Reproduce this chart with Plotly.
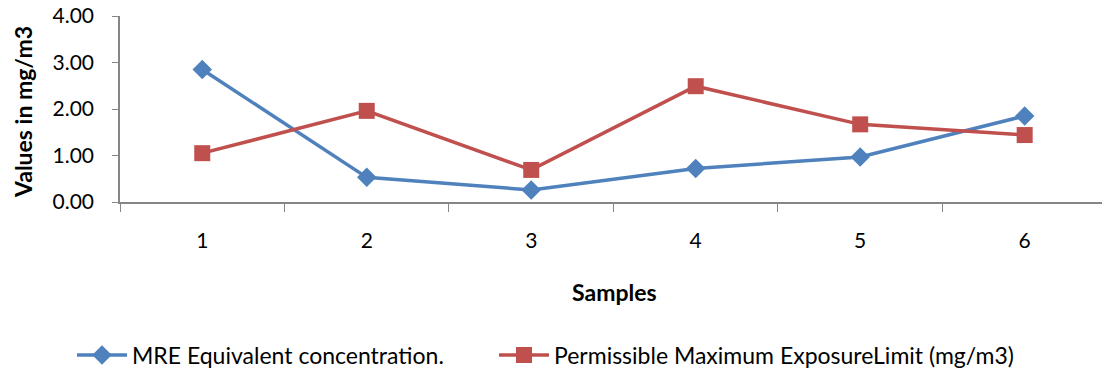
import plotly.graph_objects as go

samples = ["1", "2", "3", "4", "5", "6"]
mre_equivalent = [2.85, 0.53, 0.26, 0.72, 0.97, 1.85]
permissible_limit = [1.05, 1.96, 0.69, 2.49, 1.67, 1.44]

FONT = "Lato"
W, H = 1102, 372
L, R, T, B = 120, 0, 16, 372 - 202
PW, PH = W - L - R, H - T - B

def px_x(page_x):
    return (page_x - L) / PW

def px_y(page_y):
    return (H - B - page_y) / PH

fig = go.Figure()
fig.add_trace(go.Scatter(
    x=samples, y=mre_equivalent, mode="lines+markers",
    name="MRE Equivalent concentration.", legend="legend",
    line=dict(color="#4F81BD", width=3.5),
    marker=dict(symbol="diamond", size=15, color="#4F81BD"),
))
fig.add_trace(go.Scatter(
    x=samples, y=permissible_limit, mode="lines+markers",
    name="Permissible Maximum ExposureLimit (mg/m3)", legend="legend2",
    line=dict(color="#C0504D", width=3.5),
    marker=dict(symbol="square", size=16, color="#C0504D"),
))

leg_common = dict(orientation="h", xref="container", xanchor="left",
                  yref="container", yanchor="middle", y=1 - 355 / H,
                  font=dict(size=23), bgcolor="rgba(0,0,0,0)", itemwidth=50)

fig.update_layout(
    width=W, height=H,
    margin=dict(l=L, r=R, t=T, b=B, autoexpand=False),
    plot_bgcolor="white", paper_bgcolor="white",
    font=dict(family=FONT, size=21, color="#000000"),
    showlegend=True,
    legend=dict(x=72 / W, **leg_common),
    legend2=dict(x=494 / W, **leg_common),
    xaxis=dict(type="category", range=[-0.5, 5.47], tickson="boundaries",
               showline=True, linecolor="#868686", linewidth=1.5,
               ticks="outside", ticklen=8, tickcolor="#868686",
               showgrid=False, zeroline=False, ticklabelstandoff=19,
               tickfont=dict(size=21)),
    yaxis=dict(range=[0, 4], dtick=1, tickformat=".2f",
               showline=True, linecolor="#868686", linewidth=1.5,
               ticks="outside", ticklen=6, tickcolor="#868686",
               showgrid=False, zeroline=False, ticklabelstandoff=14,
               ticklabeloverflow="allow", tickfont=dict(size=21)),
)

fig.add_annotation(text="<b>Values in mg/m3</b>", textangle=-90,
                   xref="paper", yref="paper",
                   x=px_x(23), y=px_y(112), xanchor="center", yanchor="middle",
                   showarrow=False, font=dict(size=23))
fig.add_annotation(text="<b>Samples</b>", xref="paper", yref="paper",
                   x=px_x(614), y=px_y(292),
                   xanchor="center", yanchor="middle",
                   showarrow=False, font=dict(size=23))

fig.write_html("out.html", config={"displayModeBar": False},
               post_script="document.body.style.margin='0';")
